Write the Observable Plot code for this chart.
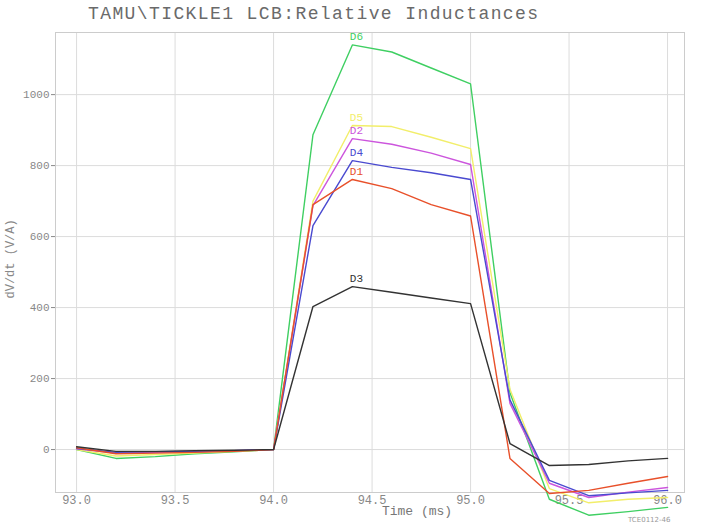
<!DOCTYPE html>
<html><head><meta charset="utf-8">
<script src="https://cdn.jsdelivr.net/npm/d3@7"></script>
<script src="https://cdn.jsdelivr.net/npm/@observablehq/plot@0.6"></script>
<style>
body{margin:0;background:#fff;}
#wrap{position:relative;width:703px;height:531px;}
#title{position:absolute;left:88px;top:4px;font-family:"Liberation Mono",monospace;font-size:18px;color:#6a6a6a;letter-spacing:1.4px;white-space:pre;}
#stamp{position:absolute;left:628px;top:516px;font-family:"DejaVu Sans",sans-serif;font-size:7px;color:#999;}
</style></head>
<body><div id="wrap"><div id="title">TAMU\TICKLE1 LCB:Relative Inductances</div><div id="stamp">TCE0112-46</div></div>
<script>
const times = [93.0,93.2,93.4,93.6,93.8,94.0,94.2,94.4,94.6,94.8,95.0,95.2,95.4,95.6,95.8,96.0];
const seriesNames = ["D6","D5","D2","D4","D1","D3"];
const seriesColors = ["#3fcf62","#f2ee6a","#cc55dd","#4a4ad0","#e8502a","#333333"];
const D6 = [0,-25,-20,-12,-6,0,887,1140,1120,1075,1030,160,-140,-185,-175,-163];
const D5 = [0,-18,-14,-10,-5,0,700,913,910,880,848,170,-110,-150,-140,-135];
const D2 = [2,-10,-8,-6,-3,0,687,876,860,835,803,130,-95,-135,-120,-107];
const D4 = [3,-8,-6,-5,-3,0,631,814,795,780,761,140,-87,-130,-122,-115];
const D1 = [5,-12,-10,-8,-5,0,690,761,735,690,658,-25,-124,-115,-95,-76];
const D3 = [8,-5,-5,-3,-2,0,403,459,443,427,411,17,-45,-42,-32,-25];
const xTicks = [93.0,93.5,94.0,94.5,95.0,95.5,96.0];
const yTicks = [0,200,400,600,800,1000];

const allSeries = [D6,D5,D2,D4,D1,D3];
const rows = [];
allSeries.forEach((vals,i)=>vals.forEach((v,j)=>rows.push({t:times[j],v,s:seriesNames[i]})));
const peakIdx = 7;
const labels = allSeries.map((vals,i)=>({t:times[peakIdx],v:vals[peakIdx],s:seriesNames[i]}));

const mono = "Liberation Mono, monospace";
const chart = Plot.plot({
  width:703,height:531,
  marginLeft:55,marginRight:19,marginTop:32,marginBottom:39,
  style:{background:"#fff",color:"#888",fontFamily:mono},
  x:{domain:[92.893,96.086]},
  y:{domain:[-121,1175]},
  color:{domain:seriesNames,range:seriesColors},
  marks:[
    Plot.gridX(xTicks,{stroke:"#dcdcdc",strokeOpacity:1}),
    Plot.gridY(yTicks,{stroke:"#dcdcdc",strokeOpacity:1}),
    Plot.frame({stroke:"#cccccc"}),
    Plot.axisX(xTicks,{tickFormat:d3.format(".1f"),tickSize:0,tickPadding:3,fontSize:12,fill:"#888",fontFamily:mono,label:null}),
    Plot.axisY(yTicks,{tickFormat:d=>String(d),tickSize:4,tickPadding:2,fontSize:11,fill:"#888",fontFamily:mono,label:null}),
    Plot.text(["Time (ms)"],{frameAnchor:"bottom",dx:47,dy:22,fontSize:13,fill:"#777",fontFamily:mono}),
    Plot.text(["dV/dt (V/A)"],{frameAnchor:"left",dx:-45,dy:36,rotate:-90,fontSize:12,fill:"#888",fontFamily:mono}),
    Plot.line(rows,{x:"t",y:"v",z:"s",stroke:"s",strokeWidth:1.4}),
    Plot.text(labels,{x:"t",y:"v",text:"s",fill:"s",dy:-8,dx:4,fontSize:11,fontFamily:mono})
  ]
});
document.getElementById("wrap").prepend(chart);
chart.style.position="absolute";chart.style.left="0";chart.style.top="0";
</script>
</body></html>
